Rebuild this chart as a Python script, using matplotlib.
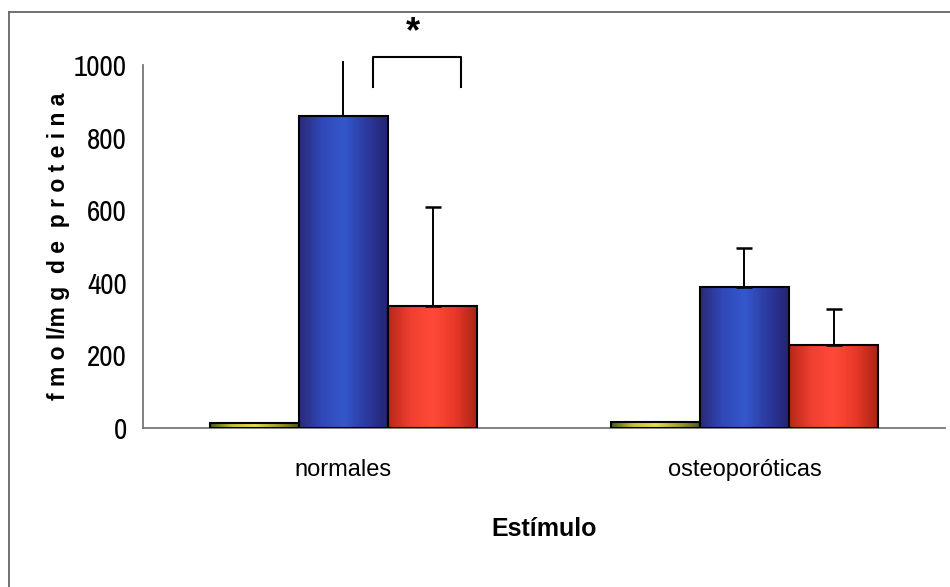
import numpy as np
import matplotlib.pyplot as plt
from matplotlib import font_manager
from matplotlib.colors import LinearSegmentedColormap
from matplotlib.lines import Line2D

# data
groups = ['normales', 'osteoporóticas']
control = [15, 16]
stim_blue = [860, 388]
stim_red = [336, 229]
err_blue = [152, 108]
err_red = [273, 99]
yticks = [0, 200, 400, 600, 800, 1000]

# look for an upright narrow face for the tick numbers
narrow = None
for f in font_manager.fontManager.ttflist:
    cond = 'Narrow' in f.name or f.stretch in ('condensed', 'semi-condensed')
    if cond and f.style == 'normal' and f.weight in (400, 'normal', 'regular'):
        narrow = font_manager.FontProperties(fname=f.fname)
        if 'Narrow' in f.name:
            break
if narrow is None:
    narrow = font_manager.FontProperties(family='Liberation Sans')

fig = plt.figure(figsize=(9.5, 5.87), dpi=100)
ax = fig.add_axes([0.1505, 0.2709, 0.8442, 0.6184])

x = np.arange(len(groups))
w = 0.2222

# gradient colormaps (dark edges, lighter band left of centre)
cmaps = [
    LinearSegmentedColormap.from_list('y', ['#4d5a1e', '#c9c23a', '#e8dc48', '#a8a032', '#4d5a1e']),
    LinearSegmentedColormap.from_list('b', ['#2a2a7a', '#3048b8', '#3458cc', '#2c3aa0', '#242470']),
    LinearSegmentedColormap.from_list('r', ['#b82818', '#f04030', '#ff4a38', '#e83828', '#a82414']),
]

series = [control, stim_blue, stim_red]
for i, vals in enumerate(series):
    bars = ax.bar(x + (i - 1) * w, vals, w, facecolor='none', edgecolor='black',
                  linewidth=1.5, zorder=3)
    grad = np.linspace(0, 1, 100).reshape(1, -1)
    for b in bars:
        bx, by = b.get_x(), b.get_y()
        im = ax.imshow(grad, cmap=cmaps[i], aspect='auto', zorder=2,
                       extent=(bx, bx + b.get_width(), by, by + b.get_height()))
        im.set_clip_path(b)

# upper error bars
caps_blue = [0, 6]
for j in range(len(groups)):
    eb = ax.errorbar(x[j], stim_blue[j] + err_blue[j] / 2, yerr=err_blue[j] / 2, fmt='none',
                     ecolor='black', elinewidth=1.4, capsize=caps_blue[j], capthick=1.8, zorder=4)
    for a in eb.lines[1] + eb.lines[2]:
        a.set_clip_on(False)
    eb = ax.errorbar(x[j] + w, stim_red[j] + err_red[j] / 2, yerr=err_red[j] / 2, fmt='none',
                     ecolor='black', elinewidth=1.4, capsize=6, capthick=1.8, zorder=4)
    for a in eb.lines[1] + eb.lines[2]:
        a.set_clip_on(False)

ax.set_xlim(-0.5, 1.5)
ax.set_ylim(0, 1000)
ax.set_yticks(yticks)
ax.set_yticklabels([str(t) for t in yticks], fontproperties=narrow, fontsize=21)
ax.set_xticks(x)
ax.set_xticklabels(groups, fontsize=17, family='Liberation Sans')
ax.tick_params(axis='both', length=0)
ax.tick_params(axis='y', pad=11.5)
ax.tick_params(axis='x', pad=22)

for s in ['top', 'right']:
    ax.spines[s].set_visible(False)
for s in ['left', 'bottom']:
    ax.spines[s].set_color('#777777')
    ax.spines[s].set_linewidth(1.3)

ax.set_xlabel('Estímulo', fontsize=18, family='Liberation Sans', fontweight='bold', labelpad=26)
ax.set_ylabel('f m o l/m g  d e  p r o t e i n a', fontsize=16.5, family='Liberation Sans',
              fontweight='heavy')
ax.yaxis.set_label_coords(-0.091, 0.5)

# significance bracket
ax.plot([0.0725, 0.0725, 0.2925, 0.2925], [939, 1022, 1022, 939], color='black',
        linewidth=1.5, clip_on=False)
ax.text(0.1725, 1090, '*', ha='center', va='center', fontsize=26, fontweight='bold',
        family='Liberation Sans')

# frame (only top and left visible in the scan)
fig.add_artist(Line2D([0.0095, 1.0], [0.9796, 0.9796], color='#666666', lw=1.3))
fig.add_artist(Line2D([0.0095, 0.0095], [0.0, 0.9796], color='#666666', lw=1.3))

fig.savefig('out.png', dpi=100)
